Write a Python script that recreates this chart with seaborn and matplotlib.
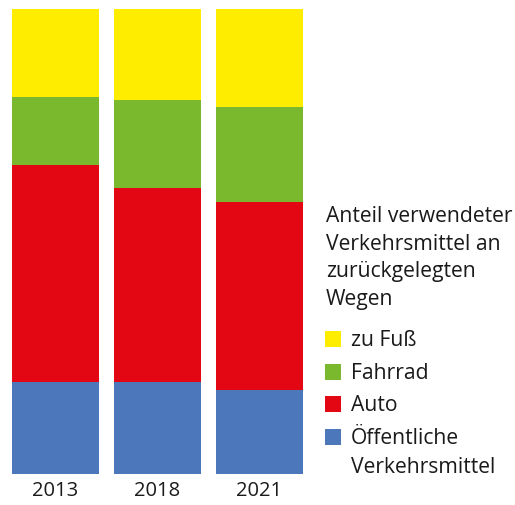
import pandas as pd
import numpy as np
import matplotlib
matplotlib.use('Agg')
import matplotlib.pyplot as plt
from matplotlib.patches import Rectangle
import seaborn as sns

# data (percent of trips)
years = ['2013', '2018', '2021']
oeffentlich = [19.8, 19.8, 18.1]
auto = [46.7, 41.7, 40.5]
fahrrad = [14.6, 18.9, 20.3]
zu_fuss = [18.9, 19.6, 21.1]

modes = ['zu Fuß', 'Fahrrad', 'Auto', 'Öffentliche\nVerkehrsmittel']
colors = ['#FFED00', '#7AB82D', '#E30613', '#4C77BA']
legend_title = ['Anteil verwendeter', 'Verkehrsmittel an', 'zurückgelegten', 'Wegen']

df = pd.DataFrame({'Jahr': years, 'oev': oeffentlich, 'auto': auto,
                   'rad': fahrrad, 'fuss': zu_fuss})
# cumulative heights for stacking (bottom to top: oev, auto, rad, fuss)
df['c_oev'] = df['oev']
df['c_auto'] = df['c_oev'] + df['auto']
df['c_rad'] = df['c_auto'] + df['rad']
df['c_fuss'] = df['c_rad'] + df['fuss']

sns.set_theme(style='white')
plt.rcParams['font.family'] = ['Open Sans', 'DejaVu Sans']

W, H = 515, 505
fig = plt.figure(figsize=(W / 100, H / 100), dpi=100)
ax = fig.add_axes([12 / W, 1 - 474 / H, 291 / W, 465 / H])

# draw tallest first so the lower segments sit on top
for col, c in zip(['c_fuss', 'c_rad', 'c_auto', 'c_oev'], colors):
    sns.barplot(data=df, x='Jahr', y=col, color=c, width=0.853,
                saturation=1, linewidth=0, ax=ax, errorbar=None)

ax.set_xlim(-0.4265, 2.4265)
ax.set_ylim(0, df['c_fuss'].max())
ax.set_xlabel('')
ax.set_ylabel('')
ax.set_yticks([])
ax.tick_params(axis='x', length=0, labelsize=14.5, pad=5, colors='#1a1a1a')
sns.despine(ax=ax, left=True, bottom=True)

# legend drawn by hand so the square lines up with the first label line
fs = 15.2
txt_col = '#1a1a1a'
for i, line in enumerate(legend_title):
    fig.text(326 / W, 1 - (222 + 27.5 * i) / H, line, fontsize=fs,
             color=txt_col, va='baseline', ha='left')

for i, (lab, c) in enumerate(zip(modes, colors)):
    base = 346 + 32.7 * i
    fig.patches.append(Rectangle((325 / W, 1 - (base + 1) / H), 16 / W, 16 / H,
                                 transform=fig.transFigure, facecolor=c,
                                 edgecolor='none'))
    for j, part in enumerate(lab.split('\n')):
        fig.text(351 / W, 1 - (base + 29 * j) / H, part, fontsize=fs,
                 color=txt_col, va='baseline', ha='left')

fig.savefig('out.png', dpi=100)
